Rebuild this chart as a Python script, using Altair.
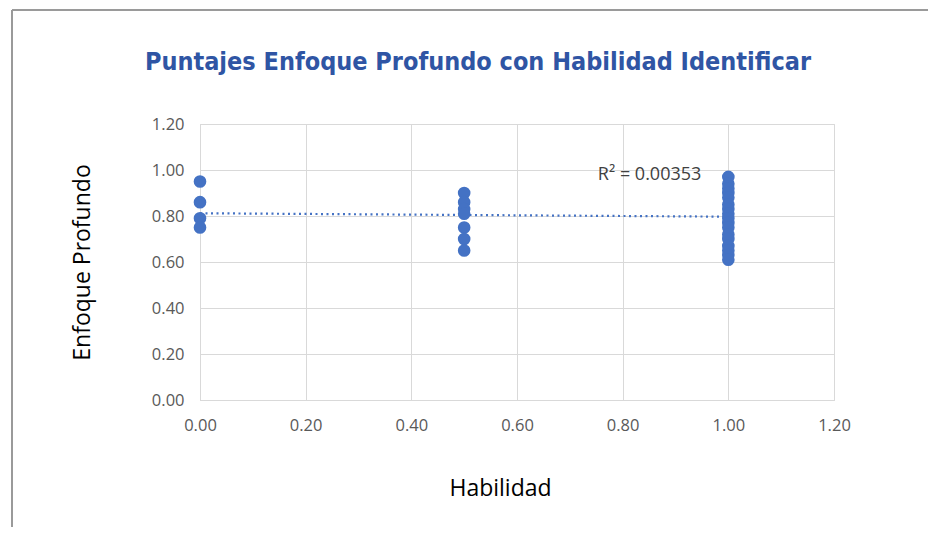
import altair as alt
import pandas as pd

# Data
hab_0 = [0.95, 0.86, 0.79, 0.75]
hab_05 = [0.90, 0.86, 0.83, 0.81, 0.75, 0.70, 0.65]
hab_1 = [0.97, 0.94, 0.92, 0.90, 0.88, 0.85, 0.83, 0.81, 0.79, 0.77,
         0.75, 0.72, 0.70, 0.67, 0.65, 0.63, 0.61]

trend_x = [0.0, 1.0]
trend_y = [0.812, 0.797]

r2_label = ["R² = 0.00353"]
r2_x = [0.753]
r2_y = [0.977]

title_text = ["Puntajes Enfoque Profundo con Habilidad Identificar"]

ticks = [0.0, 0.2, 0.4, 0.6, 0.8, 1.0, 1.2]

rows = ([{"Habilidad": 0.0, "Enfoque": v} for v in hab_0]
        + [{"Habilidad": 0.5, "Enfoque": v} for v in hab_05]
        + [{"Habilidad": 1.0, "Enfoque": v} for v in hab_1])
df = pd.DataFrame(rows)
trend = pd.DataFrame({"Habilidad": trend_x, "Enfoque": trend_y})
ann = pd.DataFrame({"Habilidad": r2_x, "Enfoque": r2_y, "t": r2_label})

BLUE = "#4472C4"
FONT = "Open Sans"
TFONT = "'DejaVu Sans Condensed', Lato, Roboto, sans-serif"

xscale = alt.Scale(domain=[0, 1.2], nice=False, zero=True)
yscale = alt.Scale(domain=[0, 1.2], nice=False, zero=True)

xax = alt.Axis(values=ticks, format=".2f", title="Habilidad", grid=True,
               gridColor="#d9d9d9", domainColor="#d9d9d9", ticks=False,
               labelFlush=False,
               labelFont=FONT, labelFontSize=16.5, labelColor="#595959",
               labelPadding=17, titleFont=FONT, titleFontSize=23,
               titleFontWeight="normal", titleColor="#000000",
               titleX=300, titleY=88, titleBaseline="middle")
yax = alt.Axis(values=ticks, format=".2f", title="Enfoque Profundo", grid=True,
               gridColor="#d9d9d9", domainColor="#d9d9d9", ticks=False,
               labelFlush=False,
               labelFont=FONT, labelFontSize=16.5, labelColor="#595959",
               labelPadding=16, titleFont=FONT, titleFontSize=23,
               titleFontWeight="normal", titleColor="#000000",
               titleX=-118, titleY=138, titleBaseline="middle", titleAngle=-90)

points = alt.Chart(df).mark_circle(size=160, color=BLUE, opacity=1).encode(
    x=alt.X("Habilidad:Q", scale=xscale, axis=xax),
    y=alt.Y("Enfoque:Q", scale=yscale, axis=yax),
)

line = alt.Chart(trend).mark_line(color=BLUE, strokeWidth=2.2,
                                  strokeDash=[2, 3.5]).encode(
    x=alt.X("Habilidad:Q", scale=xscale),
    y=alt.Y("Enfoque:Q", scale=yscale),
)

text = alt.Chart(ann).mark_text(align="left", baseline="middle", font=FONT,
                                fontSize=18, color="#404040").encode(
    x=alt.X("Habilidad:Q", scale=xscale),
    y=alt.Y("Enfoque:Q", scale=yscale),
    text="t:N",
)

title = alt.Chart(pd.DataFrame({"t": title_text})).mark_text(
    align="center", baseline="middle", font=TFONT,
    fontSize=25, fontWeight="bold", color="#2F55A4").encode(
    x=alt.value(278), y=alt.value(-62), text="t:N")

frame_top = alt.Chart(pd.DataFrame({"a": [0]})).mark_rule(
    color="#9a9a9a", strokeWidth=2).encode(
    x=alt.value(-188), x2=alt.value(740), y=alt.value(-114))
frame_left = alt.Chart(pd.DataFrame({"a": [0]})).mark_rule(
    color="#9a9a9a", strokeWidth=2).encode(
    x=alt.value(-188), y=alt.value(-114), y2=alt.value(405))

chart = alt.layer(line, points, text, title, frame_top, frame_left).properties(
    width=634,
    height=276,
    autosize=alt.AutoSizeParams(type="none"),
    padding={"left": 192, "top": 116, "right": 94, "bottom": 127},
).configure_view(stroke="#d9d9d9").configure(background="white")

chart.save("out.html", embed_options={"renderer": "svg", "actions": False})
